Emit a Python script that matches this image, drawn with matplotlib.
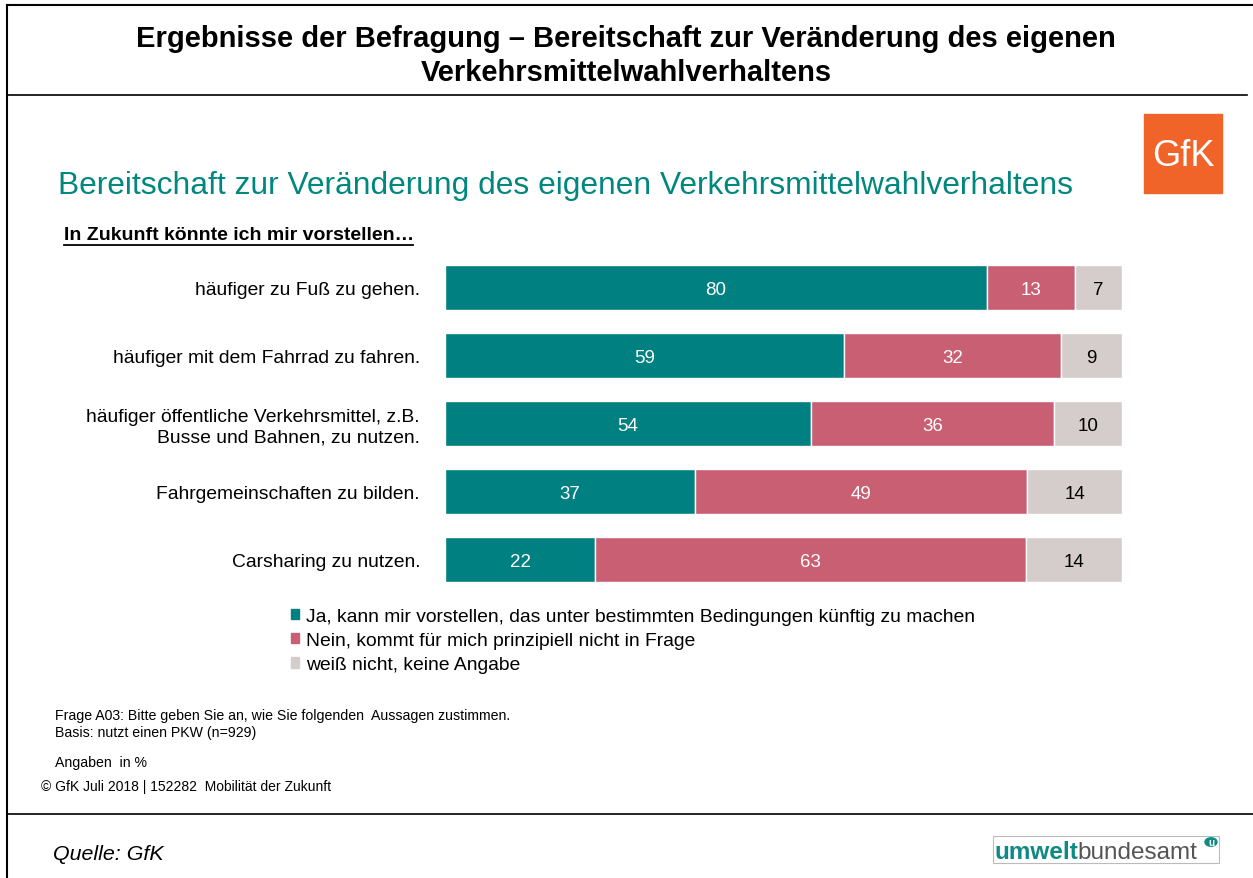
import matplotlib
matplotlib.use("Agg")
import matplotlib.pyplot as plt
from matplotlib.patches import Rectangle, Circle
from matplotlib.lines import Line2D

categories = [
    "häufiger zu Fuß zu gehen.",
    "häufiger mit dem Fahrrad zu fahren.",
    "häufiger öffentliche Verkehrsmittel, z.B.\nBusse und Bahnen, zu nutzen.",
    "Fahrgemeinschaften zu bilden.",
    "Carsharing zu nutzen.",
]
ja = [80, 59, 54, 37, 22]
nein = [13, 32, 36, 49, 63]
weiss = [7, 9, 10, 14, 14]
series_labels = [
    "Ja, kann mir vorstellen, das unter bestimmten Bedingungen künftig zu machen",
    "Nein, kommt für mich prinzipiell nicht in Frage",
    "weiß nicht, keine Angabe",
]
colors = ["#008080", "#C95F72", "#D5CDCB"]
text_colors = ["white", "white", "black"]

W, H = 1253, 879
plt.rcParams['font.family'] = ['Liberation Sans', 'DejaVu Sans']
fig = plt.figure(figsize=(W / 100, H / 100), dpi=100)
fig.patch.set_facecolor("white")


def fx(x):
    return x / W


def fy(y):
    return 1 - y / H


# frame lines
fig.add_artist(Line2D([fx(7), fx(1253)], [fy(6), fy(6)], color="black", lw=1.5))
fig.add_artist(Line2D([fx(7), fx(7)], [fy(6), fy(879)], color="black", lw=1.5))
fig.add_artist(Line2D([fx(7), fx(1247)], [fy(96), fy(96)], color="black", lw=1.2))
fig.add_artist(Line2D([fx(7), fx(1253)], [fy(815), fy(815)], color="black", lw=1.2))

# titles
fig.text(fx(626), fy(39), "Ergebnisse der Befragung – Bereitschaft zur Veränderung des eigenen",
         ha="center", va="center", fontsize=21, fontweight="bold")
fig.text(fx(626), fy(73), "Verkehrsmittelwahlverhaltens",
         ha="center", va="center", fontsize=21, fontweight="bold")
fig.text(fx(58), fy(186), "Bereitschaft zur Veränderung des eigenen Verkehrsmittelwahlverhaltens",
         ha="left", va="center", fontsize=22.9, color="#00877E")
fig.text(fx(64), fy(236), "In Zukunft könnte ich mir vorstellen…",
         ha="left", va="center", fontsize=14, fontweight="bold")
fig.add_artist(Line2D([fx(64), fx(413)], [fy(246), fy(246)], color="black", lw=1.3))

# bar chart (each row drawn as 100 % stacked bar)
ax = fig.add_axes([fx(445), fy(595), fx(1122) - fx(445), (595 - 254) / H])
ypos = list(range(len(categories)))
totals = [a + b + c for a, b, c in zip(ja, nein, weiss)]
left = [0.0] * len(categories)
for vals, col, tcol in zip([ja, nein, weiss], colors, text_colors):
    widths = [v / t * 100 for v, t in zip(vals, totals)]
    bars = ax.barh(ypos, widths, left=left, height=0.66, color=col,
                   edgecolor="white", linewidth=1)
    for b, v in zip(bars, vals):
        ax.text(b.get_x() + b.get_width() / 2, b.get_y() + b.get_height() / 2,
                str(v), ha="center", va="center_baseline", color=tcol, fontsize=13.5)
    left = [l + w for l, w in zip(left, widths)]
ax.set_xlim(0, 100)
ax.set_ylim(len(categories) - 0.5, -0.5)
ax.set_yticks(ypos)
ax.set_yticklabels(categories, fontsize=13.9, ha="right", multialignment="right")
ax.tick_params(axis="y", length=0, pad=18)
ax.set_xticks([])
for s in ax.spines.values():
    s.set_visible(False)

# legend
handles = [Rectangle((0, 0), 1, 1, color=c) for c in colors]
fig.legend(handles, series_labels, loc="upper left",
           bbox_to_anchor=(fx(283), fy(601)), frameon=False, fontsize=13.9,
           handlelength=0.45, handleheight=0.45, handletextpad=0.35,
           labelspacing=0.38, borderaxespad=0)

# footnotes
fig.text(fx(55), fy(716), "Frage A03: Bitte geben Sie an, wie Sie folgenden  Aussagen zustimmen.",
         ha="left", va="center", fontsize=10.2)
fig.text(fx(55), fy(733), "Basis: nutzt einen PKW (n=929)", ha="left", va="center", fontsize=10.2)
fig.text(fx(55), fy(763), "Angaben  in %", ha="left", va="center", fontsize=10.2)
fig.text(fx(41), fy(787), "© GfK Juli 2018 | 152282  Mobilität der Zukunft",
         ha="left", va="center", fontsize=10)
fig.text(fx(53), fy(855), "Quelle: GfK", ha="left", va="center", fontsize=15.4, style="italic")

# GfK logo
fig.add_artist(Rectangle((fx(1144), fy(194)), fx(1222) - fx(1144), (194 - 115) / H,
                         transform=fig.transFigure, color="#F0642A"))
fig.text(fx(1183), fy(156), "GfK", ha="center", va="center", fontsize=26,
         color="white")

# Umweltbundesamt logo
fig.add_artist(Rectangle((fx(993), fy(864)), fx(1219) - fx(993), (864 - 837) / H,
                         transform=fig.transFigure, fill=False, edgecolor="#BBBBBB", lw=0.8))
t1 = fig.text(fx(994), fy(853), "umwelt", ha="left", va="center", fontsize=17.5,
              color="#0E8A84", fontweight="bold")
fig.canvas.draw()
bb = t1.get_window_extent()
fig.text(bb.x1 / W, fy(853), "bundesamt", ha="left", va="center", fontsize=17.5,
         color="#555555")
fig.add_artist(Circle((fx(1211), fy(843)), 6 / W, transform=fig.transFigure,
                      color="#0E8A84"))
fig.text(fx(1211), fy(843), "u", ha="center", va="center", fontsize=7,
         color="white", fontweight="bold")

fig.savefig("out.png", dpi=100, facecolor="white")
